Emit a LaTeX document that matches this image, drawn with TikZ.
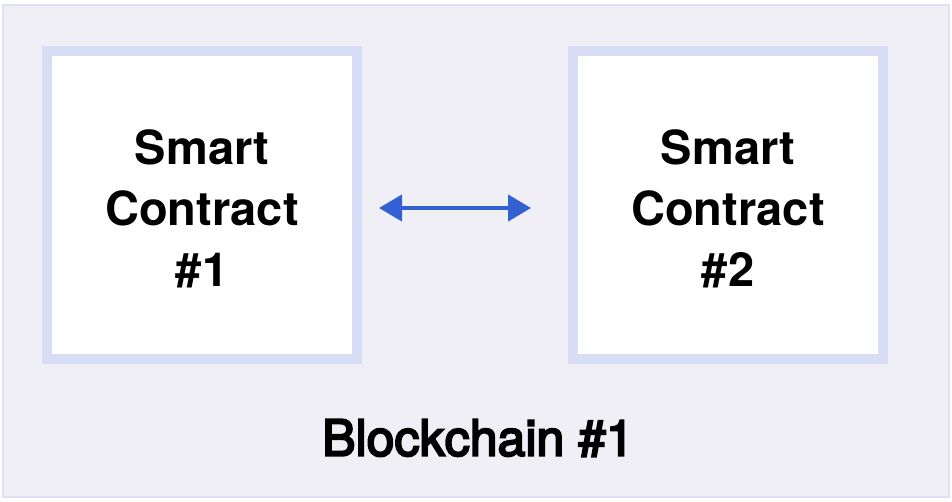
\documentclass[tikz,border=0pt]{standalone}
\usepackage{fontspec}
\setmainfont{TeX Gyre Heros}
\usepackage{xcolor}
\usetikzlibrary{positioning,calc,arrows.meta}
\definecolor{chainbg}{HTML}{EFEFF5}
\definecolor{chainrim}{HTML}{DDE1F1}
\definecolor{contractrim}{HTML}{D6DDF5}
\definecolor{linkblue}{HTML}{3361D3}
\newfontfamily\chainfont[BoldFont={TeX Gyre Heros},BoldFeatures={FakeBold=4}]{TeX Gyre Heros}
\tikzstyle{every node}=[font=\fontsize{48}{62}\selectfont]
\tikzstyle{contract}=[draw=contractrim, line width=10pt, fill=white,
    minimum width=310pt, minimum height=308pt]
\tikzstyle{contracttext}=[align=center, font=\fontsize{47}{61}\selectfont\bfseries]

\begin{document}
\begin{tikzpicture}[x=1pt,y=-1pt]
        \useasboundingbox (0,0) rectangle (952,501);
        \draw[chainrim, fill=chainbg, line width=2pt] (3,5) rectangle (949,497);
        \node[contract] (sc1) at (202,205) {};
        \node[contract] (sc2) at (728,205) {};
        \node[contracttext] (sc1text) at ($(sc1)+(0,4)$) {Smart\\Contract\\\#1};
        \node[contracttext] (sc2text) at ($(sc2)+(0,4)$) {Smart\\Contract\\\#2};
        \coordinate (L) at (379,208);
        \coordinate (R) at (531,208);
        \draw[linkblue, line width=4.5pt, {Triangle[length=23pt,width=26pt]}-{Triangle[length=23pt,width=26pt]}] (L) -- (R);
        \node[font=\fontsize{50}{62}\chainfont\bfseries] (chain) at (478,438) {Blockchain \#1};
    \end{tikzpicture}
\end{document}
